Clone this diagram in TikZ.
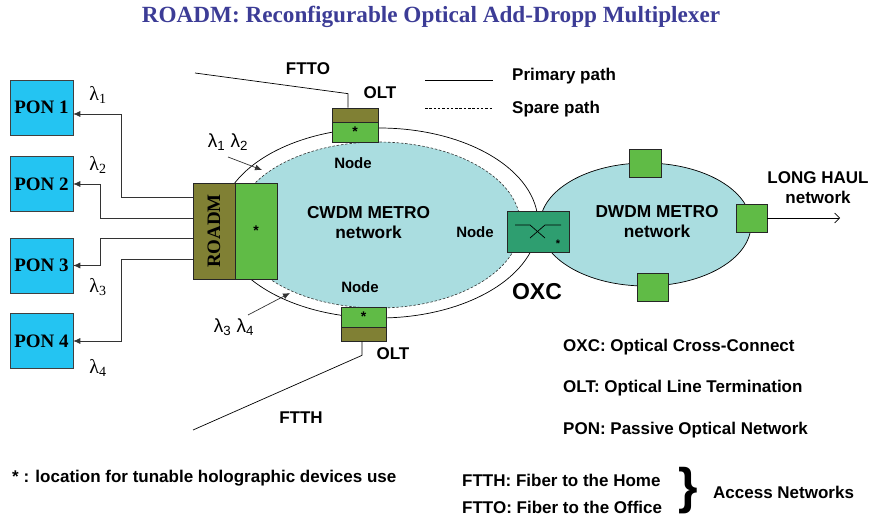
\documentclass[tikz,border=0pt]{standalone}
\usepackage{fontspec}
\setmainfont{Liberation Serif}
\setsansfont{Liberation Sans}
\usetikzlibrary{shapes.geometric,arrows.meta,decorations.pathreplacing}
\definecolor{titleblue}{RGB}{60,60,150}
\definecolor{poncyan}{RGB}{36,196,242}
\definecolor{olivebox}{RGB}{128,128,52}
\definecolor{boxgreen}{RGB}{96,187,70}
\definecolor{metro}{RGB}{170,221,224}
\definecolor{oxcteal}{RGB}{46,158,112}
\begin{document}
\begin{tikzpicture}[x=1pt,y=-1pt,
  lab/.style={font=\sffamily\bfseries\fontsize{17}{20}\selectfont, inner sep=0pt, align=center},
  nodelab/.style={font=\sffamily\bfseries\fontsize{15}{18}\selectfont, inner sep=0pt},
  ponbox/.style={draw=black!75, line width=0.6pt, fill=poncyan, minimum width=63pt, minimum height=55pt, inner sep=0pt, font=\rmfamily\bfseries\fontsize{19}{19}\selectfont},
  olbox/.style={draw=black!85, line width=0.7pt, fill=olivebox, inner sep=0pt},
  grbox/.style={draw=black!85, line width=0.7pt, fill=boxgreen, inner sep=0pt, font=\sffamily\bfseries\fontsize{14}{14}\selectfont},
  sqbox/.style={draw=black!85, line width=0.7pt, fill=boxgreen, inner sep=0pt},
  ponarr/.style={draw=black!80, line width=0.7pt, -{Latex[length=7pt,width=6pt]}},
  lamserif/.style={font=\rmfamily\fontsize{20}{20}\selectfont, inner sep=0pt},
  lamsans/.style={font=\sffamily\fontsize{19}{19}\selectfont, inner sep=0pt},
  thinline/.style={draw=black, line width=0.7pt},
  fine dash/.style={dash pattern=on 2.5pt off 1.8pt}
]
\useasboundingbox (0,0) rectangle (873,516);

% title
\node[font=\rmfamily\bfseries\fontsize{23.2}{23.2}\selectfont, text=titleblue, inner sep=0pt] (title) at (431,17) {ROADM: Reconfigurable Optical Add-Dropp Multiplexer};

% metro rings
\node[ellipse, draw, line width=0.7pt, minimum width=318pt, minimum height=190pt, inner sep=0pt] (ring) at (379,223) {};
\node[ellipse, draw=black!80, line width=0.6pt, fine dash, fill=metro, minimum width=285pt, minimum height=166pt, inner sep=0pt] (cwdm) at (378,225) {};
\node[ellipse, draw, line width=0.7pt, fill=metro, minimum width=211pt, minimum height=123pt, inner sep=0pt] (dwdm) at (645.5,224.5) {};

\node[lab, font=\sffamily\bfseries\fontsize{17.3}{20}\selectfont] (cwdmtext) at (368.5,223) {CWDM METRO\\network};
\node[lab, font=\sffamily\bfseries\fontsize{17.3}{20}\selectfont] (dwdmtext) at (657,222) {DWDM METRO\\network};

\node[nodelab] (nodeT) at (353,163) {Node};
\node[nodelab] (nodeB) at (360,287) {Node};
\node[nodelab] (nodeR) at (475,232) {Node};

% PON boxes
\node[ponbox] (pon1) at (41.5,107.5) {PON 1};
\node[ponbox] (pon2) at (41.5,184) {PON 2};
\node[ponbox] (pon3) at (41.5,265.5) {PON 3};
\node[ponbox] (pon4) at (41.5,341) {PON 4};

\node[lamserif] (lam1) at (98,95) {λ\textsubscript{1}};
\node[lamserif] (lam2) at (98,165) {λ\textsubscript{2}};
\node[lamserif] (lam3) at (98,287) {λ\textsubscript{3}};
\node[lamserif] (lam4) at (98,368) {λ\textsubscript{4}};

% ROADM
\node[olbox, minimum width=42pt, minimum height=96pt, font=\rmfamily\bfseries\fontsize{19}{19}\selectfont] (roadm) at (214,231) {\rotatebox{90}{ROADM}};
\node[grbox, minimum width=42pt, minimum height=96pt] (roadmg) at (256,231) {*};

\draw[ponarr] ([yshift=34pt]roadm.west) -- ++(-71,0) |- ([yshift=-6.5pt]pon1.east);
\draw[ponarr] ([yshift=13pt]roadm.west) -- ++(-92,0) |- (pon2.east);
\draw[ponarr] ([yshift=-7pt]roadm.west) -- ++(-92,0) |- (pon3.east);
\draw[ponarr] ([yshift=-28pt]roadm.west) -- ++(-71,0) |- (pon4.east);

% lambda arrows at ring
\node[lamsans] (l12) at (228,142) {λ\textsubscript{1} λ\textsubscript{2}};
\coordinate (l12t) at (262,170);
\draw[ponarr] ([shift={(0,15)}]l12.center) -- (l12t);
\node[lamsans] (l34) at (234,327) {λ\textsubscript{3} λ\textsubscript{4}};
\coordinate (l34t) at (290,293);
\draw[ponarr] ([shift={(14,-12)}]l34.center) -- (l34t);

% OLT top
\node[olbox, minimum width=46pt, minimum height=14pt] (oltTa) at (355,115) {};
\node[grbox, minimum width=46pt, minimum height=20pt] (oltTb) at (355,132) {*};
\node[lab] (oltTlab) at (380,93) {OLT};
\coordinate (ftto) at (195,73);
\draw[thinline] (ftto) -- ([shift={(-7,-14)}]oltTa.north) -- ([xshift=-7pt]oltTa.north);
\node[lab] (fttolab) at (308,69) {FTTO};

% OLT bottom
\node[grbox, minimum width=45pt, minimum height=20pt] (oltBa) at (363.5,317) {*};
\node[olbox, minimum width=45pt, minimum height=14pt] (oltBb) at (363.5,334) {};
\node[lab] (oltBlab) at (393,354) {OLT};
\coordinate (ftth) at (193,430);
\draw[thinline] ([xshift=-1.5pt]oltBb.south) -- ([shift={(-1.5,14)}]oltBb.south) -- (ftth);
\node[lab] (fttholab) at (301,418) {FTTH};

% OXC
\node[draw=black!85, line width=0.7pt, fill=oxcteal, minimum width=62pt, minimum height=41pt, inner sep=0pt] (oxc) at (538,231.5) {};
\draw[thinline] ([shift={(-23,-6.5)}]oxc.center) -- ++(15,0) -- ++(15,13);
\draw[thinline] ([shift={(-8,6.5)}]oxc.center) -- ++(15,-13) -- ++(16,0);
\node[font=\sffamily\bfseries\fontsize{11}{11}\selectfont, inner sep=0pt] (oxcstar) at ([shift={(20,12)}]oxc.center) {*};
\node[lab, font=\sffamily\bfseries\fontsize{23}{23}\selectfont] (oxclab) at (537,292) {OXC};

% DWDM squares
\node[sqbox, minimum width=32pt, minimum height=28pt] (sqT) at (645,163) {};
\node[sqbox, minimum width=31pt, minimum height=28pt] (sqB) at (652.5,287) {};
\node[sqbox, minimum width=31pt, minimum height=28pt] (sqR) at (751.5,218) {};
\coordinate (lh) at (840,218);
\draw[thinline, -{Straight Barb[length=5pt,width=10pt]}] (sqR.east) -- (lh);
\node[lab] (lhlab) at (818,188) {LONG HAUL\\network};

% legend
\coordinate (pa1) at (425,80);
\coordinate (pa2) at (493,80);
\draw[thinline] (pa1) -- (pa2);
\node[lab, anchor=west] (plab) at (512,76) {Primary path};
\coordinate (sa1) at (425,108);
\coordinate (sa2) at (493,108);
\draw[draw=black, line width=0.6pt, fine dash] (sa1) -- (sa2);
\node[lab, anchor=west] (slab) at (512,109) {Spare path};

\node[lab, anchor=west] (oxcdef) at (563,347) {OXC: Optical Cross-Connect};
\node[lab, anchor=west] (oltdef) at (563,388) {OLT: Optical Line Termination};
\node[lab, anchor=west] (pondef) at (563,430) {PON: Passive Optical Network};
\node[lab, anchor=west] (stardef) at (12,478) {* : location for tunable holographic devices use};
\node[lab, anchor=west] (ftthdef) at (462,480) {FTTH: Fiber to the Home};
\node[lab, anchor=west] (fttodef) at (462,507) {FTTO: Fiber to the Office};
\node[font=\sffamily\bfseries\fontsize{50}{50}\selectfont, inner sep=0pt] (brace) at (688,490.5) {\}};
\node[lab, anchor=west] (accdef) at (713,492) {Access Networks};
\end{tikzpicture}
\end{document}
